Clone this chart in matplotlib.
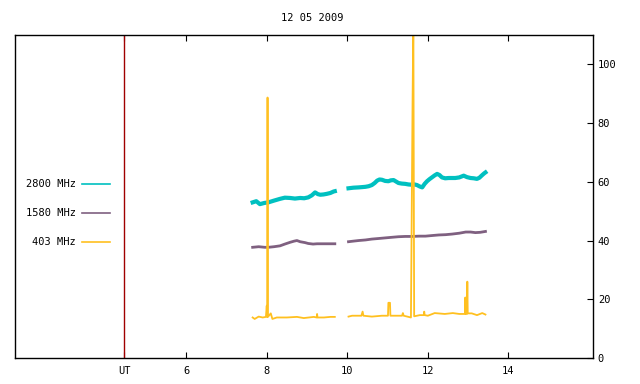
import numpy as np
import matplotlib
matplotlib.use("Agg")
import matplotlib.pyplot as plt
from matplotlib.lines import Line2D

nan = float("nan")

title = "12 05 2009"
x_ticks = [4.46, 6, 8, 10, 12, 14]
x_ticklabels = ["UT", "6", "8", "10", "12", "14"]
y_ticks = [0, 20, 40, 60, 80, 100]
ut_line = 4.46
labels = ["2800 MHz", "1580 MHz", "403 MHz"]

t_2800 = [7.65, 7.74, 7.83, 7.94, 8.04, 8.18, 8.33, 8.45, 8.58, 8.70, 8.83, 8.93,
          9.03, 9.12, 9.20, 9.27, 9.33, 9.41, 9.49, 9.58, 9.66, 9.69, nan,
          10.03, 10.15, 10.28, 10.37, 10.45, 10.53, 10.61, 10.68, 10.74, 10.80,
          10.86, 10.94, 11.02, 11.08, 11.15, 11.21, 11.27, 11.35, 11.44, 11.52,
          11.61, 11.67, 11.73, 11.80, 11.86, 11.92, 11.98, 12.04, 12.10, 12.17,
          12.23, 12.29, 12.35, 12.43, 12.52, 12.60, 12.68, 12.78, 12.89, 12.97,
          13.06, 13.14, 13.22, 13.28, 13.35, 13.40, 13.43]
v_2800 = [53.0, 53.4, 52.4, 52.8, 53.0, 53.6, 54.2, 54.6, 54.5, 54.3, 54.5, 54.4,
          54.7, 55.4, 56.4, 55.8, 55.6, 55.7, 55.9, 56.2, 56.7, 56.8, nan,
          57.8, 58.0, 58.1, 58.2, 58.3, 58.5, 58.9, 59.6, 60.4, 60.8,
          60.7, 60.3, 60.2, 60.5, 60.6, 60.1, 59.6, 59.4, 59.3, 59.1,
          59.0, 59.1, 58.9, 58.4, 58.1, 59.3, 60.2, 60.9, 61.5, 62.2,
          62.7, 62.3, 61.5, 61.2, 61.3, 61.3, 61.3, 61.5, 62.1, 61.6,
          61.3, 61.2, 61.0, 61.4, 62.3, 62.9, 63.2]

t_1580 = [7.65, 7.80, 7.95, 8.04, 8.18, 8.33, 8.45, 8.58, 8.68, 8.75, 8.83,
          8.95, 9.03, 9.15, 9.25, 9.35, 9.49, 9.58, 9.69, nan,
          10.03, 10.15, 10.28, 10.45, 10.61, 10.78, 10.94, 11.10, 11.27, 11.44,
          11.61, 11.78, 11.94, 12.10, 12.27, 12.44, 12.60, 12.78, 12.94, 13.06,
          13.18, 13.30, 13.43]
v_1580 = [37.7, 37.9, 37.7, 37.7, 37.9, 38.2, 38.8, 39.4, 39.8, 40.0, 39.6,
          39.3, 39.0, 38.8, 38.9, 38.9, 38.9, 38.9, 38.9, nan,
          39.6, 39.8, 40.0, 40.2, 40.5, 40.7, 40.9, 41.1, 41.3, 41.4,
          41.4, 41.5, 41.5, 41.7, 41.9, 42.0, 42.2, 42.5, 42.9, 42.9,
          42.7, 42.8, 43.1]

t_403 = [7.65, 7.70, 7.80, 7.90, 7.98, 8.00, 8.01, 8.02, 8.03, 8.10, 8.14, 8.25,
         8.35, 8.50, 8.75, 8.92, 9.17, 9.24, 9.25, 9.26, 9.42, 9.58, 9.69, nan,
         10.03, 10.12, 10.35, 10.38, 10.40, 10.61, 10.86, 11.01, 11.02, 11.06,
         11.07, 11.20, 11.36, 11.38, 11.40, 11.58, 11.62, 11.64, 11.66, 11.80,
         11.90, 11.91, 11.92, 12.00, 12.17, 12.42, 12.62, 12.78, 12.92, 12.93,
         12.94, 12.97, 12.98, 12.99, 13.09, 13.22, 13.35, 13.43]
v_403 = [13.8, 13.3, 14.1, 13.8, 14.0, 17.8, 14.0, 88.7, 14.0, 15.2, 13.3, 13.8,
         13.8, 13.8, 14.0, 13.6, 14.0, 13.8, 15.0, 13.8, 13.8, 14.0, 14.0, nan,
         14.1, 14.4, 14.4, 15.8, 14.4, 14.1, 14.4, 14.4, 18.8, 18.8,
         14.4, 14.4, 14.4, 15.3, 14.4, 13.8, 86.8, 115.0, 14.2, 14.6,
         14.6, 15.8, 14.6, 14.4, 15.3, 15.0, 15.3, 15.0, 15.0, 20.6,
         15.0, 15.0, 26.0, 15.2, 15.2, 14.6, 15.3, 14.8]

c_2800 = "#00c0c0"
c_1580 = "#7f6080"
c_403 = "#ffc020"
c_ut = "#a00000"
colors = [c_2800, c_1580, c_403]

plt.rcParams["font.family"] = ["DejaVu Sans Mono"]
fs = 7.5

fig = plt.figure(figsize=(6.4, 3.84), dpi=100)
W, H = 640, 384
L, R, T, B = 15, 593, 35, 358
ax = fig.add_axes([L / W, 1 - B / H, (R - L) / W, (B - T) / H])

ax.plot(t_2800, v_2800, color=c_2800, lw=3.0)
ax.plot(t_1580, v_1580, color=c_1580, lw=2.0)
ax.plot(t_403, v_403, color=c_403, lw=1.3)
ax.axvline(ut_line, color=c_ut, lw=1.0)

ax.set_xlim(1.75, 16.1)
ax.set_ylim(0, 110)

ax.set_xticks(x_ticks)
ax.set_xticklabels(x_ticklabels, fontsize=fs)
ax.tick_params(axis="x", direction="in", length=4, width=0.8, top=True,
               bottom=True, pad=5.5)
ax.yaxis.tick_right()
ax.set_yticks(y_ticks)
ax.set_yticklabels([str(v) for v in y_ticks], fontsize=fs)
ax.tick_params(axis="y", direction="in", length=4, width=0.8, left=False,
               right=True, pad=3.5)
for s in ax.spines.values():
    s.set_linewidth(1.0)

# key (gnuplot style: right-aligned text, then line sample)
for i, (lab, col) in enumerate(zip(labels, colors)):
    yk = 1 - (184 + 29 * i) / H
    fig.text(76 / W, yk, lab, ha="right", va="center", fontsize=fs)
    fig.add_artist(Line2D([82 / W, 110 / W], [yk, yk], color=col, lw=1.2,
                          transform=fig.transFigure))

fig.text(312 / W, 1 - 18 / H, title, ha="center", va="center", fontsize=fs)

fig.savefig("out.png", dpi=100)
